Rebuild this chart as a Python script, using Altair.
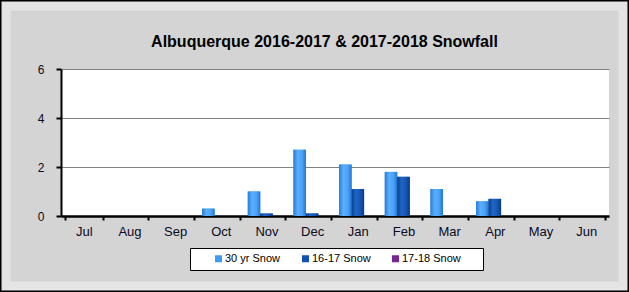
import altair as alt
import pandas as pd

months = ["Jul", "Aug", "Sep", "Oct", "Nov", "Dec", "Jan", "Feb", "Mar", "Apr", "May", "Jun"]
series_names = ["30 yr Snow", "16-17 Snow", "17-18 Snow"]
snow_30yr = [0, 0, 0, 0.3, 1.0, 2.7, 2.1, 1.8, 1.1, 0.6, 0, 0]
snow_1617 = [0, 0, 0, 0, 0.1, 0.1, 1.1, 1.6, 0, 0.7, 0, 0]
snow_1718 = [0, 0, 0, 0, 0, 0, 0, 0, 0, 0, 0, 0]
series_colors = ["#3F9CF5", "#0F52B0", "#7A2394"]
y_ticks = [0, 2, 4, 6]
title_text = "Albuquerque 2016-2017 & 2017-2018 Snowfall"

rows = []
for name, vals in zip(series_names, [snow_30yr, snow_1617, snow_1718]):
    for m, v in zip(months, vals):
        rows.append({"Month": m, "Series": name, "Snow": v})
df = pd.DataFrame(rows)

FONT = "Liberation Sans"
TXT = "#0a0a22"

x_enc = alt.X("Month:N", sort=months, title=None,
              scale=alt.Scale(paddingInner=0.18, paddingOuter=0.09),
              axis=alt.Axis(labelAngle=0, tickBand="extent", domainColor="black", domainWidth=2.5,
                            tickColor="black", tickWidth=2, tickSize=4, labelPadding=5,
                            labelFontSize=13, labelColor=TXT, labelFont=FONT, grid=False))
y_enc = alt.Y("Snow:Q", title=None,
              scale=alt.Scale(domain=[0, 6], nice=False),
              axis=alt.Axis(values=y_ticks, domainColor="black", domainWidth=2, tickColor="black",
                            tickWidth=2, tickSize=5, labelPadding=12, labelFontSize=12,
                            labelColor=TXT, labelFont=FONT, grid=True, gridColor="#808080",
                            gridWidth=1))
xoff = alt.XOffset("Series:N", sort=series_names, scale=alt.Scale(domain=series_names, paddingInner=0))

bars = alt.Chart(df).mark_bar(size=12.5).encode(
    x=x_enc, y=y_enc, xOffset=xoff,
    color=alt.Color("Series:N", sort=series_names,
                    scale=alt.Scale(domain=series_names, range=series_colors),
                    legend=alt.Legend(title=None, orient="none", legendX=152, legendY=184,
                                      direction="horizontal", symbolType="square", symbolSize=49,
                                      symbolStrokeWidth=0, labelFontSize=11, labelFont=FONT,
                                      labelColor="black", columnPadding=19, labelOffset=1,
                                      padding=0)),
)

grads = [
    ["#2A7AD4", "#5AB0FF", "#4AA2F7", "#2574CC"],
    ["#0A3F90", "#1F66C4", "#1656B4", "#083A86"],
    ["#5A1670", "#9033B0", "#8028A0", "#551468"],
]
overlays = []
for name, g in zip(series_names, grads):
    grad = {"gradient": "linear", "x1": 0, "y1": 0, "x2": 1, "y2": 0,
            "stops": [{"offset": 0, "color": g[0]}, {"offset": 0.35, "color": g[1]},
                      {"offset": 0.7, "color": g[2]}, {"offset": 1, "color": g[3]}]}
    overlays.append(
        alt.Chart(df).transform_filter(alt.datum.Series == name).mark_bar(size=12.5).encode(
            x=alt.X("Month:N", sort=months), y=alt.Y("Snow:Q"), xOffset=xoff,
            fill=alt.value(grad)
        )
    )

one = pd.DataFrame({"k": [0]})
bevel = alt.Chart(one).mark_rect(fill=None, stroke="#E4E4E4", strokeWidth=9).encode(
    x=alt.value(-55), x2=alt.value(562), y=alt.value(-63), y2=alt.value(217))
frame = alt.Chart(one).mark_rect(fill=None, stroke="black", strokeWidth=1.5).encode(
    x=alt.value(-60.25), x2=alt.value(567.25), y=alt.value(-68.25), y2=alt.value(222.25))
legend_box = alt.Chart(one).mark_rect(fill="white", stroke="black", strokeWidth=1).encode(
    x=alt.value(129.5), x2=alt.value(422.5), y=alt.value(179.5), y2=alt.value(201.5))
title = alt.Chart(pd.DataFrame({"t": [title_text]})).mark_text(
    font=FONT, fontSize=16, fontWeight="bold", color="black", align="center",
    baseline="alphabetic").encode(x=alt.value(263.5), y=alt.value(-22), text="t:N")

chart = alt.layer(bevel, frame, legend_box, title, bars, *overlays).properties(
    width=548, height=147,
    autosize=alt.AutoSizeParams(type="none"),
    padding={"left": 61, "top": 69, "right": 20, "bottom": 76},
).configure(background="#D4D4D4").configure_view(fill="white", stroke=None)

chart.save("out.html", embed_options={"renderer": "svg", "actions": False})
